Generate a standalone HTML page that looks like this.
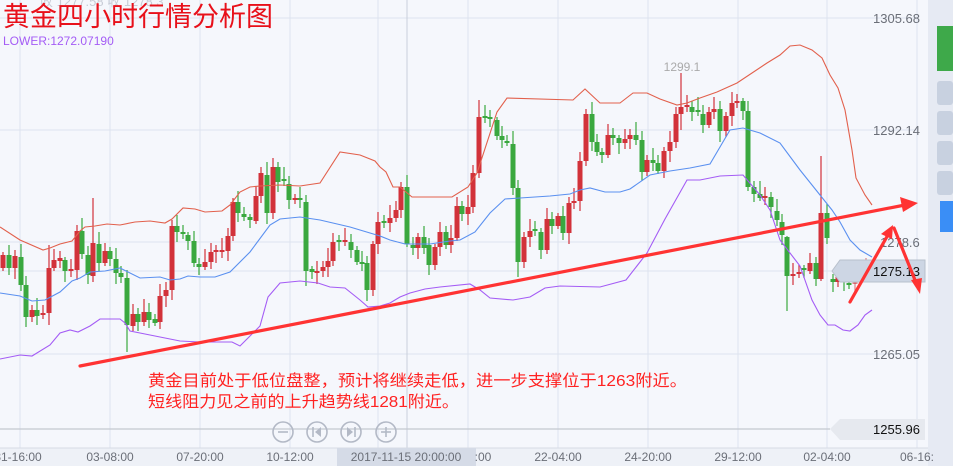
<!DOCTYPE html>
<html><head><meta charset="utf-8">
<style>
html,body{margin:0;padding:0;background:#f5f7fc;}
#w{position:relative;width:953px;height:466px;overflow:hidden;background:#f5f7fc;font-family:"Liberation Sans","Noto Sans CJK SC",sans-serif;}
svg{position:absolute;left:0;top:0;}
</style></head><body>
<div id="w">
<svg id="s" width="953" height="466" viewBox="0 0 953 466" xmlns="http://www.w3.org/2000/svg">
<rect x="0" y="0" width="953" height="466" fill="#f5f7fc"/>
<rect x="928" y="0" width="25" height="466" fill="#e6eaf3"/>
<g stroke="#dde3ef" stroke-width="1" id="grid">
<line x1="0" y1="18" x2="917" y2="18"/><line x1="0" y1="130" x2="917" y2="130"/>
<line x1="0" y1="242" x2="917" y2="242"/><line x1="0" y1="271" x2="917" y2="271"/>
<line x1="0" y1="354" x2="917" y2="354"/>
<line x1="20" y1="0" x2="20" y2="448"/><line x1="110" y1="0" x2="110" y2="448"/>
<line x1="200" y1="0" x2="200" y2="448"/><line x1="290" y1="0" x2="290" y2="448"/>
<line x1="378" y1="0" x2="378" y2="448"/><line x1="468" y1="0" x2="468" y2="448"/>
<line x1="558" y1="0" x2="558" y2="448"/><line x1="648" y1="0" x2="648" y2="448"/>
<line x1="738" y1="0" x2="738" y2="448"/><line x1="827" y1="0" x2="827" y2="448"/>
<line x1="917" y1="0" x2="917" y2="466"/>
</g>
<line x1="407" y1="0" x2="407" y2="448" stroke="#c9cfdb"/>
<line x1="0" y1="429" x2="830" y2="429" stroke="#c4c8d0" stroke-width="1.2"/>
<g id="candles"></g>
<polyline fill="none" stroke="#e2604c" stroke-width="1.1" points="0,227 20,240 43,250 50,248 60,244 72,241 80,231 85,227 95,226 107,224 120,225 135,222 150,221 165,223 172,219 183,208 195,209 205,212 222,211 230,205 240,192 250,187 260,186 280,185 300,186 320,183 340,152 360,155 375,161 380,167 386,172 393,187 400,187 412,197 452,197 468,187 477,173 497,112 507,98 573,100 585,89 600,103 620,103 633,93 647,93 660,99 677,105 687,103 700,98 717,92 737,83 767,63 780,55 790,46 800,45 812,50 822,58 830,75 838,88 845,110 852,150 856,178 865,195 872,205"/>
<polyline fill="none" stroke="#5a90f0" stroke-width="1.1" points="0,293 20,296 32,301 45,300 60,292 72,281 80,278 90,272 105,271 120,268 126,271 140,278 160,277 170,280 180,279 188,276 200,277 215,277 230,272 250,252 270,225 280,219 300,217 320,220 350,227 380,236 390,240 405,244 420,244 430,244 450,241 460,240 475,232 490,213 505,199 520,198 550,196 570,194 580,190 590,188 605,192 620,192 630,189 650,175 670,171 690,168 710,164 730,130 743,128 760,133 780,143 800,170 820,195 832,210 840,222 850,240 860,250 872,257"/>
<polyline fill="none" stroke="#a45cf5" stroke-width="1.1" points="0,359 20,355 32,356 50,345 60,333 70,330 78,332 90,326 100,319 120,319 125,323 130,331 140,333 165,338 180,341 200,342 232,342 240,346 250,336 260,326 268,297 280,283 300,281 318,283 330,287 345,288 360,300 368,307 380,306 390,303 400,297 410,293 425,289 440,287 470,284 480,290 490,298 513,300 530,297 545,288 560,286 600,287 626,280 647,253 665,219 687,180 700,180 720,176 743,175 760,195 770,210 780,240 800,266 812,300 820,315 828,325 835,325 843,330 850,331 858,325 865,315 872,310"/>
<!-- price labels -->
<g font-size="13" fill="#6b6f78">
<text x="873" y="23">1305.68</text>
<text x="873" y="135">1292.14</text>
<text x="880" y="247">1278.6</text>
<text x="873" y="359">1265.05</text>
</g>
<path d="M832,271 L840,260 L925,260 L925,282 L840,282 Z" fill="#cdd6e4" stroke="#b8c0cc" stroke-width="1"/>
<text x="873" y="276" font-size="13" fill="#111">1275.13</text>
<path d="M830,429 L840,419 L925,419 L925,440 L840,440 Z" fill="#e6e9ef"/>
<text x="873" y="434" font-size="13" fill="#111">1255.96</text>
<text x="682" y="71" font-size="12" fill="#aaaaaa" text-anchor="middle">1299.1</text>
<g fill="none" stroke="#ff3333" stroke-width="3.2" stroke-linecap="round">
<line x1="80" y1="366" x2="905" y2="205"/>
<line x1="850" y1="302" x2="889" y2="233"/>
<line x1="894" y1="228" x2="917" y2="285"/>
</g>
<g fill="#ff3333">
<polygon points="918,203 900,197 903,212"/>
<polygon points="893,225 881,234 892,239"/>
<polygon points="920,294 911,280 922,278"/>
</g>
<!-- right panel -->
<rect x="937" y="26" width="16" height="45" fill="#3ea94a"/>
<rect x="937" y="81" width="16" height="24" rx="3" fill="#c8d1e0"/>
<rect x="937" y="111" width="16" height="24" rx="3" fill="#c8d1e0"/>
<rect x="937" y="141" width="16" height="24" rx="3" fill="#c8d1e0"/>
<rect x="937" y="171" width="16" height="24" rx="3" fill="#c8d1e0"/>
<rect x="940" y="201" width="13" height="31" fill="#3a8ef6"/>
<!-- bottom axis -->
<rect x="0" y="448" width="928" height="18" fill="#eef1f7"/>
<line x1="0" y1="448" x2="928" y2="448" stroke="#d6dbe5"/>
<rect x="337" y="448" width="139" height="18" fill="#d5dbe7"/>
<g font-size="12" fill="#6b6f78" text-anchor="middle">
<text x="18" y="461">31-16:00</text><text x="110" y="461">03-08:00</text>
<text x="200" y="461">07-20:00</text><text x="290" y="461">10-12:00</text>
<text x="406" y="461">2017-11-15 20:00:00</text><text x="483" y="461">:00</text>
<text x="558" y="461">22-04:00</text><text x="648" y="461">24-20:00</text>
<text x="738" y="461">29-12:00</text><text x="827" y="461">02-04:00</text>
<text x="917" y="461">06-16:</text>
</g>
<!-- nav buttons -->
<g fill="none" stroke="#b3b9c6" stroke-width="1.6">
<circle cx="283" cy="432" r="10"/><circle cx="317" cy="432" r="10"/>
<circle cx="351" cy="432" r="10"/><circle cx="386" cy="432" r="10"/>
<line x1="278" y1="432" x2="288" y2="432"/>
<line x1="381" y1="432" x2="391" y2="432"/><line x1="386" y1="427" x2="386" y2="437"/>
<line x1="313" y1="427" x2="313" y2="437"/><line x1="355" y1="427" x2="355" y2="437"/>
</g>
<polygon points="321,427 321,437 315,432" fill="#b3b9c6"/>
<polygon points="347,427 347,437 353,432" fill="#b3b9c6"/>
<!-- titles -->
<text x="40" y="6" font-size="13" fill="#c8ccd6">收 1277.58    收 1278.3</text>
<text x="3" y="26" font-size="27" fill="#e8101a">黄金四小时行情分析图</text>
<text x="3" y="45" font-size="12" fill="#a45cf5">LOWER:1272.07190</text>
<text x="148" y="386" font-size="16" fill="#ff2222" textLength="539" lengthAdjust="spacingAndGlyphs">黄金目前处于低位盘整，预计将继续走低，进一步支撑位于1263附近。</text>
<text x="148" y="407" font-size="16" fill="#ff2222" textLength="311" lengthAdjust="spacingAndGlyphs">短线阻力见之前的上升趋势线1281附近。</text>
</svg>
</div>
<script>
var d=[[3,255,268,'r'],[9,255,268,'g'],[15,256,268,'r'],[21,257,285,'g'],[26,285,317,'g'],[32,310,317,'r'],[37,310,316,'g'],[43,313,315,'r'],[49,268,313,'r'],[54,260,268,'r'],[60,258,261,'r'],[65,260,271,'g'],[71,269,271,'r'],[77,231,270,'r'],[82,231,254,'g'],[88,255,275,'g'],[93,243,276,'r'],[99,244,263,'g'],[105,251,263,'r'],[110,251,259,'g'],[116,259,273,'g'],[121,273,277,'g'],[127,278,325,'g'],[133,314,326,'r'],[138,314,322,'g'],[144,312,322,'r'],[149,312,320,'g'],[155,319,323,'g'],[160,296,322,'r'],[166,290,296,'r'],[172,226,290,'r'],[177,226,232,'g'],[183,232,234,'g'],[188,235,241,'g'],[194,241,263,'g'],[199,264,267,'g'],[205,262,267,'r'],[211,252,262,'r'],[216,250,252,'r'],[222,250,252,'r'],[228,236,251,'r'],[233,202,236,'r'],[238,202,213,'g'],[244,214,217,'g'],[250,217,220,'g'],[256,196,221,'r'],[261,173,196,'r'],[267,175,213,'g'],[273,167,213,'r'],[278,167,182,'g'],[284,179,181,'g'],[289,184,200,'g'],[295,198,200,'r'],[300,198,200,'g'],[306,202,271,'g'],[312,269,272,'g'],[317,271,273,'r'],[323,267,271,'r'],[328,261,267,'r'],[333,242,261,'r'],[339,240,242,'g'],[345,240,242,'r'],[351,242,250,'g'],[357,250,262,'g'],[362,262,264,'g'],[367,263,290,'g'],[373,244,290,'r'],[378,222,244,'r'],[384,221,223,'g'],[390,218,223,'r'],[396,210,218,'r'],[401,187,210,'r'],[407,187,244,'g'],[413,245,248,'g'],[418,237,248,'r'],[424,237,248,'g'],[429,245,265,'g'],[435,247,265,'r'],[440,232,247,'r'],[446,232,245,'g'],[451,238,245,'r'],[457,206,238,'r'],[462,206,214,'g'],[468,207,214,'r'],[473,173,207,'r'],[479,117,173,'r'],[485,116,118,'g'],[490,117,118,'g'],[497,120,136,'g'],[502,136,140,'g'],[507,141,143,'g'],[513,144,188,'g'],[518,188,262,'g'],[524,237,262,'r'],[530,231,237,'r'],[535,229,231,'g'],[541,232,250,'g'],[547,219,250,'r'],[552,219,226,'g'],[558,216,226,'r'],[563,216,233,'g'],[569,203,233,'r'],[574,201,203,'r'],[580,161,201,'r'],[586,114,161,'r'],[592,114,142,'g'],[597,142,152,'g'],[602,152,155,'g'],[608,135,155,'r'],[613,135,138,'g'],[619,138,143,'g'],[625,139,143,'r'],[630,135,139,'r'],[636,135,140,'g'],[642,140,172,'g'],[647,160,172,'r'],[653,160,163,'g'],[658,163,171,'g'],[664,151,171,'r'],[670,142,151,'r'],[676,114,142,'r'],[681,107,114,'r'],[687,105,107,'r'],[692,107,112,'g'],[698,110,112,'g'],[703,114,125,'g'],[709,112,125,'r'],[714,109,112,'r'],[720,109,131,'g'],[726,116,131,'r'],[732,103,116,'r'],[737,101,103,'r'],[743,101,111,'g'],[748,111,187,'g'],[754,187,194,'g'],[760,194,198,'g'],[765,196,198,'r'],[771,197,207,'g'],[777,211,220,'g'],[782,222,235,'g'],[787,237,276,'g'],[793,274,276,'r'],[799,272,274,'r'],[804,268,270,'g'],[810,263,271,'r'],[816,263,279,'g'],[821,213,279,'r'],[827,213,238,'g'],[833,279,282,'g'],[838,277,282,'r'],[844,277,282,'g'],[849,283,285,'g'],[855,271,284,'r'],[861,269,271,'r'],[866,261,270,'r']];
var sp={821:[156,281],787:[236,311],127:[270,352],93:[198,282],518:[180,277],681:[73,130],306:[195,286],49:[245,325],172:[220,300],479:[100,178]};
var h='';
for(var i=0;i<d.length;i++){var c=d[i],x=c[0],t=c[1],b=c[2];
var col=c[3]=='r'?'#d2323a':'#3aa83f';
var w1=3+((i*7)%11),w2=3+((i*13)%9);
var hi=t-w1,lo=b+w2;if(sp[x]){hi=sp[x][0];lo=sp[x][1];}
var op=(x>=850)?' opacity="0.6"':'';
h+='<line x1="'+x+'" y1="'+hi+'" x2="'+x+'" y2="'+lo+'" stroke="'+col+'" stroke-width="1.2"'+op+'/>';
var hh=Math.max(b-t,2);
h+='<rect x="'+(x-2.5)+'" y="'+t+'" width="5" height="'+hh+'" fill="'+col+'"'+op+'/>';}
document.getElementById('candles').innerHTML=h;
</script>
</body></html>
